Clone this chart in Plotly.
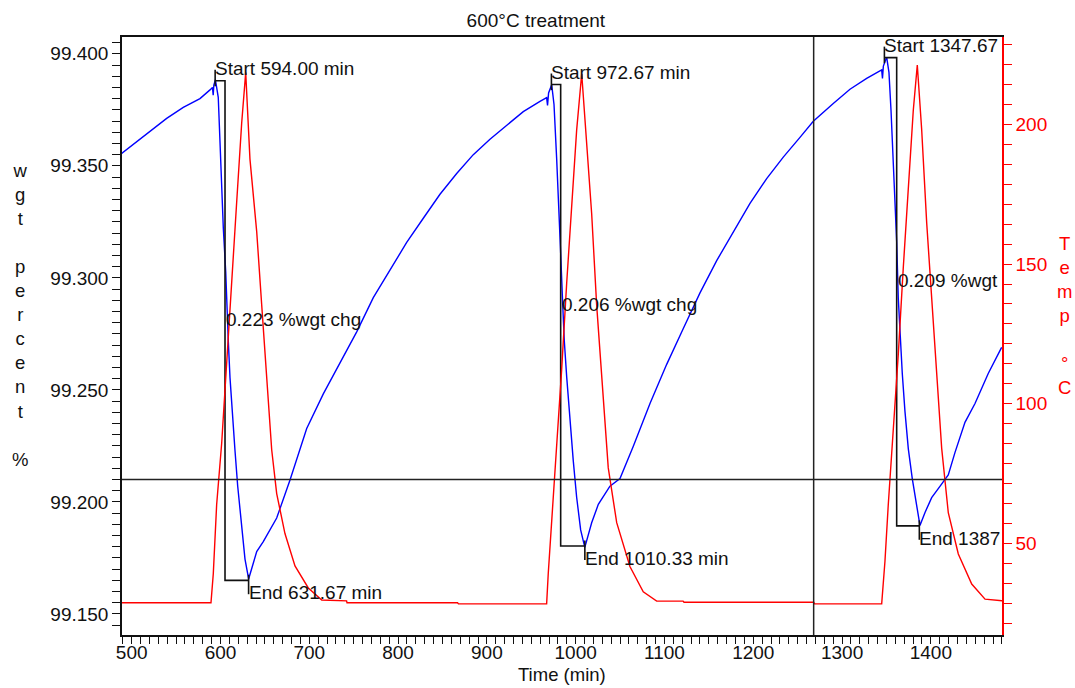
import plotly.graph_objects as go

# ---------------- data ----------------
wgt_time = [488.7, 501.8, 520.6, 539.4, 558.1, 576.9, 588.2, 591.0, 591.8, 592.5, 594.3,
            597.5, 599.4, 601.4, 603.2, 605.9, 607.0, 608.8, 610.7, 613.3, 616.3, 619.4, 623.1, 627.6, 631.7,
            640.8, 648.2, 663.3, 678.3, 697.1, 715.8, 734.6, 753.4, 772.1, 790.9, 809.7, 828.4, 847.2,
            866.0, 884.7, 903.5, 922.3, 941.0, 959.8, 967.3, 968.3, 969.5, 973.0,
            975.6, 978.6, 981.5, 983.1, 985.4, 987.2, 989.9, 993.6, 997.3, 1001.1, 1005.6, 1010.3,
            1018.0, 1025.5, 1038.6, 1049.9, 1064.9, 1083.7, 1102.5, 1121.2, 1140.0, 1158.8, 1177.5,
            1196.3, 1215.1, 1233.8, 1252.6, 1267.6, 1290.1, 1308.9, 1327.7, 1344.6, 1345.5, 1346.5, 1350.2,
            1352.8, 1355.1, 1357.7, 1359.6, 1361.5, 1363.3, 1365.2, 1367.8, 1370.8, 1374.6, 1379.1, 1382.9, 1387.7,
            1393.3, 1400.9, 1410.2, 1419.6, 1427.1, 1438.4, 1449.7, 1464.6, 1479.7]
wgt_pct = [99.3555, 99.3595, 99.3653, 99.3712, 99.3761, 99.3800, 99.3839, 99.3850, 99.3815, 99.3860, 99.3884,
           99.3806, 99.3612, 99.3385, 99.3222, 99.3027, 99.2881, 99.2719, 99.2556, 99.2394, 99.2232, 99.2070, 99.1907, 99.1745, 99.1656,
           99.1778, 99.1823, 99.1928, 99.2098, 99.2328, 99.2482, 99.2620, 99.2759, 99.2912, 99.3035, 99.3158, 99.3266, 99.3373,
           99.3466, 99.3550, 99.3619, 99.3681, 99.3742, 99.3788, 99.3804, 99.3770, 99.3825, 99.3862,
           99.3774, 99.3531, 99.3287, 99.3109, 99.2881, 99.2718, 99.2557, 99.2361, 99.2183, 99.2021, 99.1875, 99.1797,
           99.1907, 99.1989, 99.2070, 99.2104, 99.2248, 99.2439, 99.2614, 99.2774, 99.2933, 99.3077, 99.3205,
           99.3332, 99.3443, 99.3539, 99.3627, 99.3699, 99.3778, 99.3842, 99.3890, 99.3928, 99.3890, 99.3945, 99.3985,
           99.3917, 99.3749, 99.3530, 99.3362, 99.3161, 99.2909, 99.2758, 99.2573, 99.2405, 99.2237, 99.2103, 99.2002, 99.1895,
           99.1952, 99.2019, 99.2069, 99.2120, 99.2220, 99.2355, 99.2439, 99.2573, 99.2690]

temp_time = [488.7, 589.3, 591.9, 595.7, 601.4, 607.0, 612.6, 618.2, 623.9, 628.4,
             633.2, 640.8, 646.4, 652.0, 657.7, 663.3, 672.6, 683.9, 698.9, 714.0, 742.0, 742.5, 867.0, 868.0,
             967.3, 969.1, 973.0, 978.6, 984.2, 989.9, 995.5, 1001.1, 1006.8,
             1010.5, 1018.0, 1023.6, 1029.3, 1036.7, 1046.2, 1061.1, 1076.1, 1091.2, 1121.0, 1122.0, 1268.0, 1269.0,
             1344.6, 1348.3, 1352.0, 1357.7, 1363.3, 1368.9, 1374.5, 1380.2, 1384.7,
             1389.6, 1395.3, 1400.9, 1406.5, 1412.2, 1419.6, 1430.9, 1446.0, 1461.0, 1480.5]
temp_c = [28.7, 28.7, 39.1, 63.9, 86.0, 116.0, 145.9, 172.0, 200.6, 218.6,
          187.6, 161.6, 135.5, 109.6, 83.4, 67.8, 53.5, 41.9, 34.0, 29.7, 29.4, 28.7, 28.7, 28.3,
          28.3, 39.1, 57.4, 83.4, 112.1, 143.3, 172.0, 198.0, 218.2,
          200.6, 168.1, 135.5, 109.5, 77.0, 57.4, 41.7, 32.6, 29.3, 29.3, 28.9, 28.9, 28.3,
          28.3, 43.6, 63.7, 90.7, 117.6, 148.6, 178.2, 205.1, 221.3,
          198.4, 164.7, 137.9, 110.9, 83.9, 61.0, 46.2, 35.4, 30.0, 29.4]

# step-analysis markers
start_times = [594.00, 972.67, 1347.67]
step_times = [605.1, 983.1, 1361.5]
end_times = [631.67, 1010.33, 1387.0]
top_levels = [99.3880, 99.3863, 99.3983]
wgt_changes = [0.223, 0.206, 0.209]
start_labels = ["Start 594.00 min", "Start 972.67 min", "Start 1347.67"]
chg_labels = ["0.223 %wgt chg", "0.206 %wgt chg", "0.209 %wgt"]
end_labels = ["End 631.67 min", "End 1010.33 min", "End 1387"]

# cursor cross-hair
cursor_time = 1268.0
cursor_wgt = 99.2100

# axes
x_range = [489.1, 1480.1]
y_range = [99.1406, 99.4075]
y2_range = [17.16, 231.34]

FONT = "Liberation Sans, Arial, sans-serif"

# ---------------- figure ----------------
fig = go.Figure()

fig.add_trace(go.Scatter(x=wgt_time, y=wgt_pct, mode="lines",
                         line=dict(color="#0000FF", width=1.4), yaxis="y", showlegend=False))

# black step markers
bx, by = [], []
for s, st, e, top, chg in zip(start_times, step_times, end_times, top_levels, wgt_changes):
    bot = top - chg
    bx += [s, s, None]
    by += [top + 0.0049, top - 0.0025, None]
    bx += [s, st, st, e, None]
    by += [top, top, bot, bot, None]
    bx += [e, e, None]
    by += [bot + 0.0025, bot - 0.0062, None]
fig.add_trace(go.Scatter(x=bx, y=by, mode="lines", line=dict(color="#111111", width=1.6),
                         yaxis="y", showlegend=False, connectgaps=False))

fig.add_trace(go.Scatter(x=temp_time, y=temp_c, mode="lines",
                         line=dict(color="#FF0000", width=1.4), yaxis="y2", showlegend=False))

annotations = []
for s, st, e, top, chg, sl, cl, el in zip(start_times, step_times, end_times, top_levels,
                                           wgt_changes, start_labels, chg_labels, end_labels):
    bot = top - chg
    common = dict(xref="x", yref="y", showarrow=False, xanchor="left", yanchor="middle",
                  font=dict(family=FONT, size=19, color="#111111"))
    annotations.append(dict(x=s, y=top, text=sl, yshift=12, xshift=-2, **common))
    annotations.append(dict(x=st, y=(top + bot) / 2, text=cl, yshift=11, xshift=-1, **common))
    annotations.append(dict(x=e, y=bot, text=el, yshift=-12.5, xshift=-2, **common))

# axis titles
annotations.append(dict(xref="paper", yref="paper", x=-0.116, y=0.535, showarrow=False,
                        text="w<br>g<br>t<br> <br>p<br>e<br>r<br>c<br>e<br>n<br>t<br> <br>%",
                        font=dict(family=FONT, size=18.5, color="#111111"),
                        xanchor="center", yanchor="middle"))
annotations.append(dict(xref="paper", yref="paper", x=1.071, y=0.535, showarrow=False,
                        text="T<br>e<br>m<br>p<br> <br>°<br>C",
                        font=dict(family=FONT, size=18.5, color="#FF0000"),
                        xanchor="center", yanchor="middle"))
annotations.append(dict(xref="paper", yref="paper", x=0.5, y=-0.066, showarrow=False,
                        text="Time (min)", font=dict(family=FONT, size=18.5, color="#111111"),
                        xanchor="center", yanchor="middle"))

shapes = [
    dict(type="line", xref="x", yref="paper", x0=cursor_time, x1=cursor_time, y0=0, y1=1,
         line=dict(color="#222222", width=1.5), layer="above"),
    dict(type="line", xref="paper", yref="y", x0=0, x1=1, y0=cursor_wgt, y1=cursor_wgt,
         line=dict(color="#222222", width=1.5), layer="above"),
]

fig.update_layout(
    width=1075, height=688,
    margin=dict(l=122, r=73, t=37, b=53),
    paper_bgcolor="white", plot_bgcolor="white",
    font=dict(family=FONT, size=19, color="#111111"),
    title=dict(text="600°C treatment", x=0.4985, xanchor="center", y=0.971, yanchor="middle",
               font=dict(family=FONT, size=19, color="#111111")),
    showlegend=False,
    annotations=annotations,
    shapes=shapes,
    xaxis=dict(range=x_range, showgrid=False, zeroline=False,
               showline=True, linecolor="#111111", linewidth=1.5, mirror=True,
               ticks="outside", ticklen=7, tickwidth=1.3, tickcolor="#111111",
               tick0=500, dtick=100, ticklabelstandoff=-8,
               minor=dict(dtick=10, tick0=0, ticks="outside", ticklen=7, tickwidth=1.3,
                          tickcolor="#111111", showgrid=False),
               tickfont=dict(family=FONT, size=19, color="#111111")),
    yaxis=dict(range=y_range, showgrid=False, zeroline=False,
               showline=True, linecolor="#111111", linewidth=1.5,
               ticks="outside", ticklen=8, tickwidth=1.3, tickcolor="#111111",
               tick0=99.15, dtick=0.05, tickformat=".3f",
               minor=dict(dtick=0.005, tick0=99.15, ticks="outside", ticklen=8, tickwidth=1.3,
                          tickcolor="#111111", showgrid=False),
               tickfont=dict(family=FONT, size=19, color="#111111")),
    yaxis2=dict(range=y2_range, overlaying="y", side="right", showgrid=False, zeroline=False,
                showline=True, linecolor="#FF0000", linewidth=1.5,
                ticks="outside", ticklen=8, tickwidth=1.3, tickcolor="#FF0000",
                tick0=0, dtick=50,
                minor=dict(dtick=50 / 7, tick0=0, ticks="outside", ticklen=8, tickwidth=1.3,
                           tickcolor="#FF0000", showgrid=False),
                tickfont=dict(family=FONT, size=19, color="#FF0000")),
)

fig.write_html("out.html")
